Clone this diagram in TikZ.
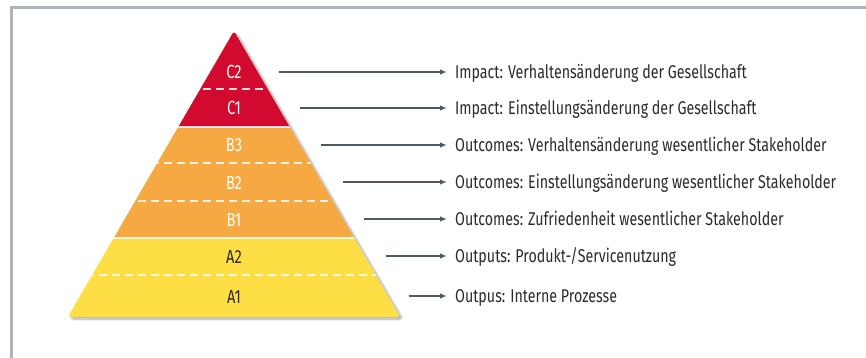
\documentclass[tikz,border=0pt]{standalone}
\usepackage{fontspec}
\setmainfont{Fira Sans}[FakeStretch=0.77]
\usetikzlibrary{arrows.meta,shadows.blur}
\definecolor{framegrey}{HTML}{AAB4BD}
\definecolor{pyrred}{HTML}{D30A2F}
\definecolor{pyrorange}{HTML}{F6A842}
\definecolor{pyryellow}{HTML}{FDDF45}
\definecolor{arrowslate}{HTML}{4B5A63}
\definecolor{textdark}{HTML}{2A2A2A}

\begin{document}
\begin{tikzpicture}[x=1pt,y=-1pt,>={Latex[length=7pt,width=5.5pt]},
 lvl/.style={font=\fontsize{19}{21}\selectfont,inner sep=0pt,text height=14pt,text depth=0pt},
 desc/.style={font=\fontsize{18.5}{20}\selectfont,text=textdark,anchor=west,
 inner xsep=8pt,inner ysep=0pt,text height=13.5pt,text depth=0pt},
 link/.style={->,arrowslate,line width=1.4pt},
 split/.style={white,line width=1.6pt,opacity=0.85},
 subsplit/.style={white,line width=1.2pt,dash pattern=on 8pt off 5pt,opacity=0.85}]
\useasboundingbox (0,0) rectangle (866,358);
% frame
\draw[framegrey,line width=3pt] (11,358) -- (11,8) -- (866,8);
% pyramid
\coordinate (top) at (234,31);
\coordinate (bl) at (68,317);
\coordinate (br) at (400,317);
\fill[pyryellow,rounded corners=3pt,
 blur shadow={shadow xshift=2.5pt,shadow yshift=-2pt,shadow blur steps=8,shadow opacity=35}]
 (top) -- (br) -- (bl) -- cycle;
\begin{scope}
 \clip[rounded corners=3pt] (top) -- (br) -- (bl) -- cycle;
 \fill[pyrred] (60,20) rectangle (410,127);
 \fill[pyrorange] (60,127) rectangle (410,238);
 \fill[pyryellow] (60,238) rectangle (410,320);
 \draw[split] (60,127) -- (410,127);
 \draw[split] (60,238) -- (410,238);
 \foreach \y in {89,163,201,275}
  \draw[subsplit] (60,\y) -- (410,\y);
\end{scope}
% levels, arrows and descriptions
\foreach \lv/\y/\col/\txt in {
 C2/72/white/{Impact: Verhaltensänderung der Gesellschaft},
 C1/108/white/{Impact: Einstellungsänderung der Gesellschaft},
 B3/145/white/{Outcomes: Verhaltensänderung wesentlicher Stakeholder},
 B2/182/white/{Outcomes: Einstellungsänderung wesentlicher Stakeholder},
 B1/219/white/{Outcomes: Zufriedenheit wesentlicher Stakeholder},
 A2/256/textdark/{Outputs: Produkt-/Servicenutzung},
 A1/296/textdark/{Outpus: Interne Prozesse}} {
 \node[lvl,text=\col] (l\lv) at (234,\y) {\lv};
 \coordinate (s\lv) at ({234+(\y-31)*0.58+21},\y);
 \node[desc] (t\lv) at (447,\y) {\txt};
 \draw[link] (s\lv) -- (t\lv.west);
}
\end{tikzpicture}
\end{document}
